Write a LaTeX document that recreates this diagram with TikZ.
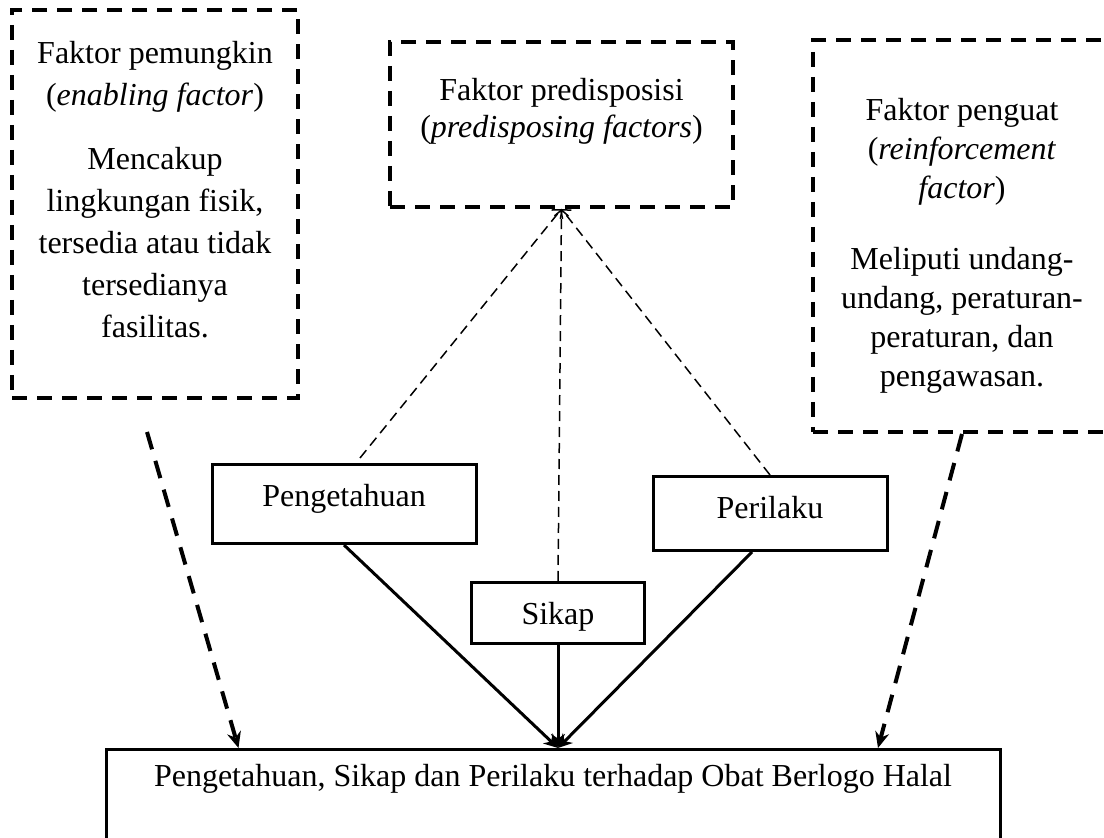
\documentclass[tikz,border=0pt]{standalone}
\usepackage{fontspec}
\setmainfont{Liberation Serif}
\usepackage{tikz}
\usetikzlibrary{positioning}
\usetikzlibrary{calc}
\usetikzlibrary{arrows.meta}

\begin{document}
\begin{tikzpicture}[x=0.5pt,y=-0.5pt,
  font=\fontsize{16}{21}\selectfont,
  dashbox/.style={draw,line width=2pt,dash pattern=on 7.5pt off 5pt,inner sep=0pt},
  solidbox/.style={draw,line width=1.5pt,text height=17pt,inner ysep=4pt,anchor=north},
  boxtext/.style={align=center,anchor=north,inner sep=0pt},
  thinlink/.style={line width=0.75pt,dash pattern=on 5pt off 3pt,-{Straight Barb[length=3pt,width=7pt]}},
  mainarrow/.style={line width=1.5pt,-{Stealth[length=7pt,width=7pt]}},
  sidearrow/.style={line width=2pt,dash pattern=on 9pt off 6pt,-{Stealth[length=8pt,width=7pt]}}]
\useasboundingbox (0,0) rectangle (1104,838);
\clip (0,0) rectangle (1104,838);
\node[dashbox,minimum width=143pt,minimum height=194pt] (enabling) at (155,204) {};
\node[boxtext] at (155,41) {Faktor pemungkin\\(\textit{enabling factor})\\[11pt]Mencakup\\lingkungan fisik,\\tersedia atau tidak\\tersedianya\\fasilitas.};
\node[dashbox,minimum width=171.5pt,minimum height=82.5pt] (predis) at (561.5,124.5) {};
\node[boxtext,font=\fontsize{16}{18.5}\selectfont] at (561.5,78) {Faktor predisposisi\\(\textit{predisposing factors})};
\node[dashbox,minimum width=149pt,minimum height=196pt] (reinforce) at (962,236) {};
\node[boxtext,font=\fontsize{16}{19.5}\selectfont] at (962,98) {Faktor penguat\\(\textit{reinforcement}\\\textit{factor})\\[16pt]Meliputi undang-\\undang, peraturan-\\peraturan, dan\\pengawasan.};
\node[solidbox,minimum width=132pt,text depth=14.5pt] (pengetahuan) at (344,463) {Pengetahuan};
\node[solidbox,minimum width=86.5pt,text depth=5.5pt] (sikap) at (558,581) {Sikap};
\node[solidbox,minimum width=117pt,text depth=12pt] (perilaku) at (770,475) {Perilaku};
\node[solidbox,minimum width=447pt,text height=11pt,inner ysep=7.5pt,text depth=40pt] (hasil) at (553,748) {Pengetahuan, Sikap dan Perilaku terhadap Obat Berlogo Halal};
\coordinate (meet) at (sikap.south |- hasil.north);
\draw[thinlink] ([xshift=8pt,yshift=2.5pt]pengetahuan.north) -- (predis.south);
\draw[thinlink] (sikap.north) -- (predis.south);
\draw[thinlink] (perilaku.north) -- (predis.south);
\draw[mainarrow] (pengetahuan.south) -- (meet);
\draw[mainarrow] (sikap.south) -- (meet);
\draw[mainarrow] ([xshift=-9pt]perilaku.south) -- (meet);
\draw[sidearrow] ($(enabling.south)+(-8,32)$) -- ($(hasil.north west)+(134,0)$);
\draw[sidearrow] (reinforce.south) -- ($(hasil.north)+(325,0)$);
\end{tikzpicture}
\end{document}
